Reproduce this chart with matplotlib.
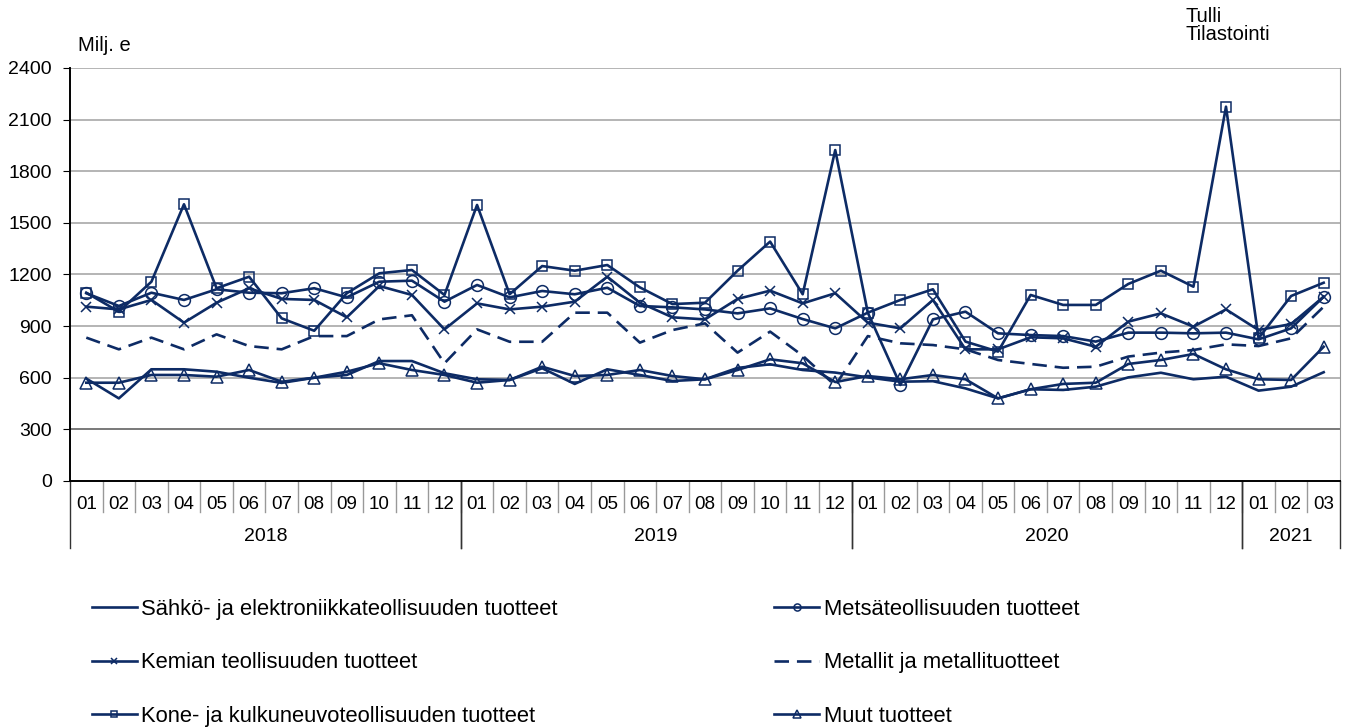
import numpy as np
import matplotlib.pyplot as plt
import matplotlib.transforms as mtransforms

plt.rcParams['font.family'] = ['Liberation Sans', 'DejaVu Sans']

# Monthly values, Milj. e, 2018-01 .. 2021-03
months = ['01', '02', '03', '04', '05', '06', '07', '08', '09', '10', '11', '12'] * 3 + ['01', '02', '03']
years = ['2018', '2019', '2020', '2021']
year_counts = [12, 12, 12, 3]

sahko = [595, 480, 649, 649, 635, 600, 570, 600, 616, 697, 697, 626,
         591, 587, 655, 564, 649, 616, 581, 591, 657, 678, 645, 630,
         602, 577, 580, 538, 480, 533, 529, 548, 602, 629, 591, 606,
         525, 548, 632]
metsa = [1091, 1017, 1094, 1052, 1114, 1094, 1091, 1120, 1067, 1158, 1164, 1042,
         1139, 1067, 1104, 1085, 1123, 1017, 1009, 997, 974, 1003, 941, 887,
         978, 558, 939, 984, 858, 848, 842, 810, 862, 862, 858, 862,
         823, 887, 1071]
kemia = [1013, 997, 1052, 920, 1036, 1120, 1058, 1052, 951, 1133, 1081, 881,
         1032, 997, 1013, 1042, 1187, 1036, 951, 939, 1058, 1106, 1032, 1091,
         920, 887, 1052, 765, 765, 835, 829, 780, 926, 974, 897, 997,
         877, 912, 1071]
metallit = [833, 765, 833, 765, 852, 784, 765, 842, 842, 939, 963, 684,
            881, 809, 809, 978, 978, 804, 877, 916, 746, 868, 728, 555,
            842, 800, 790, 765, 703, 680, 658, 664, 723, 746, 761, 794,
            784, 829, 1013]
kone = [1094, 984, 1158, 1608, 1120, 1187, 945, 873, 1091, 1207, 1226, 1081,
        1604, 1085, 1249, 1222, 1255, 1125, 1028, 1036, 1222, 1391, 1085, 1923,
        978, 1052, 1114, 810, 752, 1081, 1023, 1023, 1145, 1222, 1129, 2175,
        829, 1075, 1152]
muut = [571, 571, 616, 616, 606, 645, 577, 600, 635, 684, 645, 616,
        571, 587, 664, 610, 616, 645, 610, 591, 645, 707, 684, 575,
        610, 591, 616, 591, 480, 533, 564, 571, 680, 703, 738, 649,
        591, 587, 780]

navy = '#0d2b65'
x = np.arange(len(months))

fig = plt.figure(figsize=(13.49, 7.27), dpi=100)
ax = fig.add_axes([0.0519, 0.3384, 0.9414, 0.5681])

lw = 1.9
l1, = ax.plot(x, sahko, color=navy, lw=lw)
l2, = ax.plot(x, metsa, color=navy, lw=lw, marker='o', ms=8.5, mfc='none', mec=navy, mew=1.1)
l3, = ax.plot(x, kemia, color=navy, lw=lw, marker='x', ms=7.5, mec=navy, mew=1.1)
l4, = ax.plot(x, metallit, color=navy, lw=lw, ls=(0, (5.5, 3)))
l5, = ax.plot(x, kone, color=navy, lw=lw, marker='s', ms=7.5, mfc='none', mec=navy, mew=1.1)
l6, = ax.plot(x, muut, color=navy, lw=lw, marker='^', ms=9, mfc='none', mec=navy, mew=1.1)

ax.set_xlim(-0.5, len(months) - 0.5)
ax.set_ylim(0, 2400)
ax.set_yticks(range(0, 2401, 300))
ax.tick_params(axis='y', labelsize=14, length=5, pad=8)
ax.set_xticks([])
for v in range(300, 2401, 300):
    ax.axhline(v, color='#555555' if v == 300 else '#a0a0a0', lw=1.1, zorder=0)

ax.spines['top'].set_visible(False)
ax.spines['right'].set_color('#999999')
ax.spines['left'].set_linewidth(1.4)
ax.spines['bottom'].set_linewidth(1.4)

# two-level category axis
trans = mtransforms.blended_transform_factory(ax.transData, ax.transAxes)
for i, m in enumerate(months):
    ax.text(i, -0.058, m, transform=trans, ha='center', va='center', fontsize=13.5)
for i in range(1, len(months)):
    ax.plot([i - 0.5, i - 0.5], [0, -0.075], transform=trans, color='#999999', lw=1, clip_on=False)
start = 0
for yr, n in zip(years, year_counts):
    ax.text(start + n / 2 - 0.5, -0.135, yr, transform=trans, ha='center', va='center', fontsize=14)
    for edge in (start - 0.5, start + n - 0.5):
        ax.plot([edge, edge], [0, -0.163], transform=trans, color='#333333', lw=1, clip_on=False)
    start += n

fig.text(0.058, 0.937, 'Milj. e', fontsize=14.5, va='center')
fig.text(0.879, 0.99, 'Tulli\nTilastointi', fontsize=14.5, va='top', linespacing=0.9)

leg_kw = dict(frameon=False, fontsize=15.8, handlelength=2.05, handletextpad=0.2,
              labelspacing=1.47, borderpad=0, borderaxespad=0, markerscale=0.6)
fig.legend([l1, l3, l5], ['Sähkö- ja elektroniikkateollisuuden tuotteet',
                          'Kemian teollisuuden tuotteet',
                          'Kone- ja kulkuneuvoteollisuuden tuotteet'],
           loc='upper left', bbox_to_anchor=(0.068, 0.176), **leg_kw)
fig.legend([l2, l4, l6], ['Metsäteollisuuden tuotteet',
                          'Metallit ja metallituotteet',
                          'Muut tuotteet'],
           loc='upper left', bbox_to_anchor=(0.574, 0.176), **leg_kw)

fig.savefig('out.png', dpi=100)
